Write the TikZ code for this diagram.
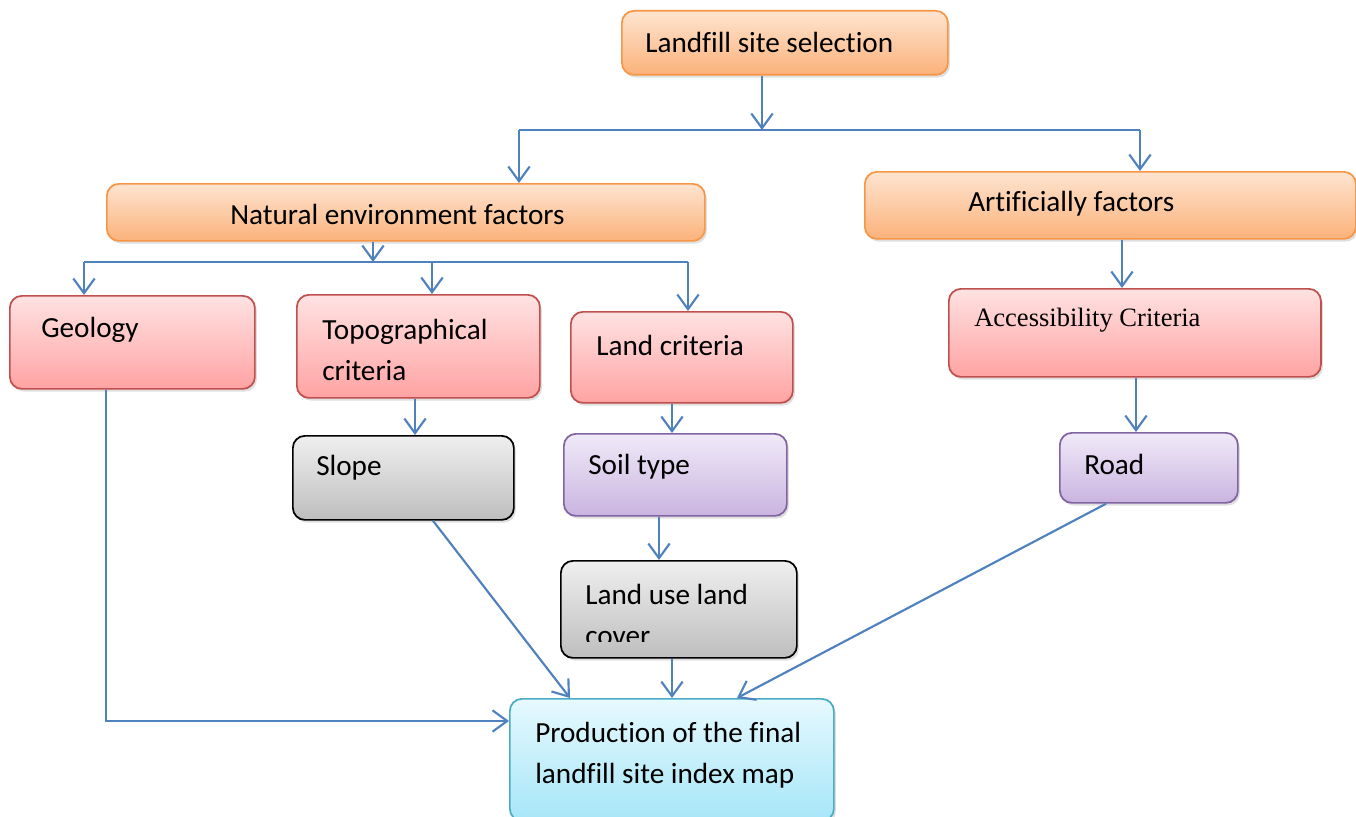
\documentclass[tikz,border=0pt]{standalone}
\usepackage{fontspec}
\setmainfont[Ligatures={NoCommon}]{Carlito}
\newfontfamily\timesfont{Liberation Serif}
\usetikzlibrary{arrows.meta,shadows}
\definecolor{arrblue}{HTML}{4F81BD}
\definecolor{orgB}{HTML}{F79646}
\definecolor{orgT}{HTML}{FEE4D0}
\definecolor{orgD}{HTML}{FBB27A}
\definecolor{redB}{HTML}{C0504D}
\definecolor{redT}{HTML}{FFE2E2}
\definecolor{redD}{HTML}{FFA3A3}
\definecolor{gryT}{HTML}{EFEFEF}
\definecolor{gryD}{HTML}{BEBEBE}
\definecolor{purB}{HTML}{8064A2}
\definecolor{purT}{HTML}{F0EAF8}
\definecolor{purD}{HTML}{CAB4E0}
\definecolor{cyaB}{HTML}{4BACC6}
\definecolor{cyaT}{HTML}{E6F9FE}
\definecolor{cyaD}{HTML}{A6E6F8}
\tikzset{
  boxbase/.style={rectangle, rounded corners=9pt, line width=1.3pt,
    drop shadow={shadow xshift=1.5pt, shadow yshift=-2pt, opacity=0.25}},
  orangebox/.style={boxbase, draw=orgB, top color=orgT, bottom color=orgD},
  redbox/.style={boxbase, draw=redB, top color=redT, bottom color=redD},
  graybox/.style={boxbase, draw=black, top color=gryT, bottom color=gryD},
  purplebox/.style={boxbase, draw=purB, top color=purT, bottom color=purD},
  cyanbox/.style={boxbase, draw=cyaB, top color=cyaT, bottom color=cyaD},
  txt/.style={anchor=west, inner sep=0pt, align=left, font=\fontsize{21.9}{31}\selectfont},
  arr/.style={draw=arrblue, line width=1.6pt, -{Straight Barb[length=11pt,width=16pt,line width=1.6pt]}},
  ln/.style={draw=arrblue, line width=1.6pt},
}
\newcommand\mkbox[6]{\node[#1, anchor=north west, inner sep=0pt,
  minimum width={(#4-#2)*0.75pt}, minimum height={(#5-#3)*0.75pt}] (#6) at (#2,#3) {};}
\begin{document}
\begin{tikzpicture}[x=0.75pt,y=-0.75pt]
\useasboundingbox (0,0) rectangle (1356,817);
% boxes
\mkbox{orangebox}{621}{10}{947}{74}{top}
\mkbox{orangebox}{106}{183}{704}{240}{nat}
\mkbox{orangebox}{864}{171}{1355}{238}{art}
\mkbox{redbox}{9}{295}{254}{388}{geo}
\mkbox{redbox}{296}{294}{539}{397}{topo}
\mkbox{redbox}{570}{311}{792}{402}{land}
\mkbox{redbox}{948}{288}{1320}{376}{acc}
\mkbox{graybox}{292}{435}{513}{519}{slope}
\mkbox{purplebox}{563}{433}{786}{515}{soil}
\mkbox{purplebox}{1059}{432}{1237}{502}{road}
\mkbox{graybox}{560}{560}{796}{657}{lulc}
\mkbox{cyanbox}{509}{698}{833}{820}{prod}
% texts
\node[txt] (ttop) at (645,42) {Landfill site selection};
\node[txt] (tnat) at (230,214) {Natural environment factors};
\node[txt] (tart) at (968,204) {Artificially factors};
\node[txt] (tgeo) at (41,330) {Geology};
\node[txt] (ttopo) at (322,350) {Topographical\\criteria};
\node[txt] (tland) at (596,345) {Land criteria};
\node[txt, font=\timesfont\fontsize{19.9}{24}\selectfont] (tacc) at (974,320) {Accessibility Criteria};
\node[txt] (tslope) at (316,468) {Slope};
\node[txt] (tsoil) at (588,467) {Soil type};
\node[txt] (troad) at (1084,464) {Road};
\begin{scope}
\clip (560,560) rectangle (796,641);
\node[txt] (tlulc) at (585,615) {Land use land\\cover};
\end{scope}
\node[txt] (tprod) at (535,755) {Production of the final\\landfill site index map};
% connectors
\coordinate (j1) at (762,130);
\coordinate (jl) at (519,130);
\coordinate (jr) at (1140,130);
\draw[arr] (j1 |- top.south) -- (j1);
\draw[ln] (jl) -- (jr);
\draw[arr] (jl) -- (jl |- nat.north);
\draw[arr] (jr) -- (jr |- art.north);
\coordinate (j2) at (373,262);
\coordinate (j2l) at (84,262);
\coordinate (j2m) at (432,262);
\coordinate (j2r) at (688,262);
\draw[arr] (j2 |- nat.south) -- (j2);
\draw[ln] (j2l) -- (j2r);
\draw[arr] (j2l) -- (j2l |- geo.north);
\draw[arr] (j2m) -- (j2m |- topo.north);
\draw[arr] (j2r) -- (j2r |- land.north);
\coordinate (c1) at (1122,0);
\draw[arr] (c1 |- art.south) -- (c1 |- acc.north);
\coordinate (c2) at (1136,0);
\draw[arr] (c2 |- acc.south) -- (c2 |- road.north);
\coordinate (c3) at (415,0);
\draw[arr] (c3 |- topo.south) -- (c3 |- slope.north);
\coordinate (c4) at (672,0);
\draw[arr] (c4 |- land.south) -- (c4 |- soil.north);
\coordinate (c5) at (659,0);
\draw[arr] (c5 |- soil.south) -- (c5 |- lulc.north);
\draw[arr] (c4 |- lulc.south) -- (c4 |- prod.north);
\coordinate (g1) at (106,721);
\draw[arr] (g1 |- geo.south) -- (g1) -- (g1 -| prod.west);
\coordinate (s1) at (433,0);
\coordinate (s2) at (570,0);
\draw[arr] (s1 |- slope.south) -- (s2 |- prod.north);
\coordinate (r1) at (1106,0);
\coordinate (r2) at (737,0);
\draw[arr] (r1 |- road.south) -- (r2 |- prod.north);
\end{tikzpicture}
\end{document}
